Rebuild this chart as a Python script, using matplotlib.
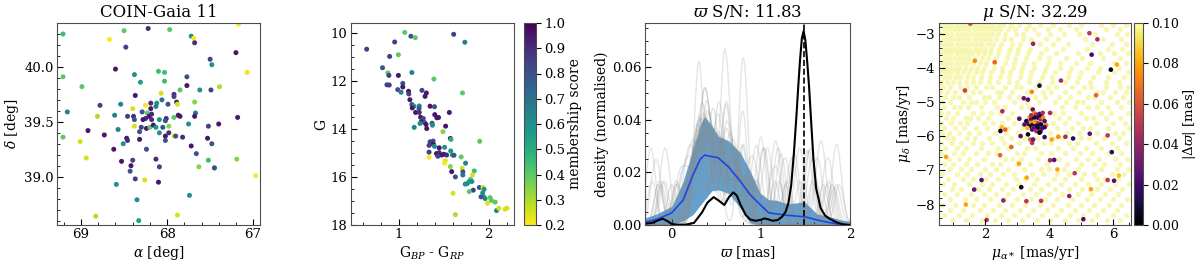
import numpy as np
import matplotlib
matplotlib.use('Agg')
import matplotlib.pyplot as plt
from matplotlib.ticker import AutoMinorLocator

plt.rcParams['font.family'] = ['DejaVu Serif']
plt.rcParams['mathtext.fontset'] = 'dejavuserif'
plt.rcParams['font.size'] = 10
plt.rcParams['xtick.labelsize'] = 9.5
plt.rcParams['ytick.labelsize'] = 9.5
plt.rcParams['xtick.major.pad'] = 2.5
plt.rcParams['ytick.major.pad'] = 2.5
plt.rcParams['axes.labelpad'] = 2.0

# ---- panel 1: sky positions of the candidate members
ra = [69.21, 68.50, 68.22, 67.97, 68.67, 68.48, 67.72, 67.69, 67.68, 67.17, 67.20, 67.50, 67.48,
      67.07, 68.60, 69.21, 68.38, 68.10, 68.03, 68.31, 68.03, 67.77, 68.99, 67.77, 67.85, 67.62,
      67.49, 67.39, 68.37, 68.07, 67.92, 67.92, 69.16, 68.78, 68.54, 68.06, 68.12, 67.99, 67.89,
      67.88, 67.68, 68.19, 68.13, 68.25, 68.40, 68.19, 68.29, 68.23, 68.18, 68.61, 68.81, 68.46,
      68.39, 68.38, 68.25, 68.21, 68.28, 68.18, 68.09, 68.01, 68.02, 67.92, 67.87, 67.85, 67.67,
      67.68, 67.75, 67.52, 67.40, 67.18, 68.92, 68.73, 68.57, 68.38, 68.32, 68.30, 68.24, 68.20,
      68.16, 68.13, 68.05, 68.09, 67.98, 67.98, 68.02, 68.02, 67.92, 67.90, 67.82, 69.21, 69.01,
      68.47, 68.46, 68.32, 68.51, 68.62, 68.24, 67.72, 67.53, 67.48, 67.66, 68.94, 68.53, 68.40,
      68.13, 68.42, 68.09, 67.63, 67.52, 67.45, 67.45, 67.19, 68.43, 68.37, 68.26, 68.10, 68.59,
      66.97, 67.74, 68.35, 68.83, 67.88, 68.33]
dec = [40.30, 40.33, 40.35, 40.34, 40.25, 40.18, 40.28, 40.26, 40.22, 40.39, 40.13, 40.07, 40.02,
       39.95, 39.98, 39.91, 39.93, 39.96, 39.95, 39.86, 39.87, 39.91, 39.82, 39.83, 39.79, 39.79,
       39.79, 39.82, 39.74, 39.76, 39.75, 39.73, 39.59, 39.65, 39.66, 39.70, 39.67, 39.66, 39.68,
       39.66, 39.68, 39.67, 39.64, 39.65, 39.62, 39.62, 39.59, 39.58, 39.57, 39.56, 39.55, 39.55,
       39.55, 39.52, 39.53, 39.55, 39.52, 39.52, 39.52, 39.53, 39.51, 39.54, 39.56, 39.55, 39.58,
       39.55, 39.48, 39.46, 39.48, 39.54, 39.42, 39.38, 39.43, 39.46, 39.41, 39.45, 39.44, 39.45,
       39.47, 39.45, 39.45, 39.40, 39.46, 39.40, 39.37, 39.33, 39.37, 39.37, 39.36, 39.36, 39.32,
       39.35, 39.33, 39.34, 39.30, 39.25, 39.25, 39.28, 39.35, 39.30, 39.21, 39.17, 39.14, 39.15,
       39.16, 39.10, 39.09, 39.09, 39.15, 39.08, 39.08, 39.16, 39.05, 38.98, 38.97, 38.95, 38.93,
       39.01, 38.83, 38.79, 38.64, 38.65, 38.60]
score = [0.45, 0.40, 0.90, 0.40, 0.20, 0.85, 0.60, 0.20, 0.90, 0.20, 0.95, 0.85, 0.60,
         0.22, 0.95, 0.40, 0.60, 0.45, 0.45, 0.55, 0.45, 0.80, 0.40, 0.95, 0.40, 0.60,
         0.85, 0.30, 0.95, 0.25, 0.90, 0.85, 0.65, 0.85, 0.65, 0.70, 0.60, 0.80, 0.90,
         0.25, 0.35, 0.90, 0.65, 0.20, 0.25, 0.95, 0.80, 0.40, 0.90, 0.65, 0.30, 0.85,
         0.90, 0.80, 0.90, 0.95, 0.95, 0.90, 0.60, 0.90, 0.80, 0.40, 0.95, 0.95, 0.70,
         0.95, 0.60, 0.85, 0.95, 0.95, 0.95, 0.95, 0.65, 0.25, 0.80, 0.85, 0.95, 0.40,
         0.95, 0.60, 0.80, 0.60, 0.35, 0.90, 0.95, 0.80, 0.25, 0.80, 0.90, 0.40, 0.25,
         0.95, 0.90, 0.95, 0.60, 0.95, 0.80, 0.95, 0.95, 0.80, 0.80, 0.25, 0.95, 0.85,
         0.90, 0.95, 0.85, 0.35, 0.45, 0.35, 0.80, 0.35, 0.80, 0.85, 0.25, 0.95, 0.60,
         0.20, 0.60, 0.60, 0.30, 0.25, 0.55]

# ---- panel 2: colour-magnitude diagram
bp_rp = [1.067, 1.135, 1.184, 1.610, 1.734, 0.955, 0.644, 0.899, 0.996, 0.820, 0.880, 0.891,
         0.996, 1.146, 1.390, 0.869, 0.895, 1.045, 1.045, 0.989, 1.026, 1.109, 1.112, 1.258,
         1.307, 1.292, 1.708, 1.124, 1.146, 1.169, 1.228, 1.225, 1.150, 1.187, 1.228, 1.348,
         1.397, 1.400, 1.442, 1.423, 1.562, 1.243, 1.273, 1.251, 1.236, 1.288, 1.303, 1.370,
         1.375, 1.172, 1.311, 1.521, 1.491, 1.899, 1.382, 1.356, 1.348, 1.386, 1.337, 1.397,
         1.449, 1.509, 1.573, 1.580, 1.337, 1.419, 1.449, 1.476, 1.502, 1.532, 1.434, 1.577,
         1.596, 1.614, 1.693, 1.337, 1.517, 1.509, 1.573, 1.742, 1.704, 1.588, 1.712, 1.712,
         1.839, 1.820, 1.629, 1.798, 1.783, 1.738, 1.760, 1.813, 1.828, 1.783, 1.895, 1.936,
         1.948, 1.932, 1.940, 1.914, 1.959, 2.015, 2.030, 1.985, 2.071, 2.086, 2.112, 2.180,
         2.202, 1.603, 1.629]
gmag = [9.99, 10.15, 10.21, 10.07, 10.40, 10.39, 10.69, 10.99, 10.92, 11.46, 11.68, 11.78,
        11.78, 11.66, 11.93, 12.17, 12.18, 12.11, 12.26, 12.37, 12.48, 12.44, 12.55, 12.40,
        12.51, 12.65, 12.51, 12.79, 12.99, 13.06, 13.05, 13.16, 13.13, 13.32, 13.32, 13.06,
        13.08, 13.41, 13.53, 13.54, 13.32, 13.52, 13.57, 13.71, 13.78, 13.74, 13.82, 13.77,
        13.85, 13.94, 13.99, 13.89, 14.12, 14.52, 14.51, 14.59, 14.54, 14.65, 14.69, 14.73,
        14.79, 14.77, 14.40, 14.44, 14.97, 15.03, 14.99, 15.09, 15.06, 15.09, 15.14, 14.92,
        15.09, 15.10, 15.17, 15.19, 15.34, 15.43, 15.57, 15.43, 15.64, 15.78, 15.79, 15.92,
        15.75, 15.92, 16.00, 16.10, 16.19, 16.30, 16.28, 16.19, 16.55, 16.61, 16.44, 16.44,
        16.52, 16.66, 16.81, 16.83, 16.90, 16.86, 16.98, 17.09, 17.05, 17.40, 17.30, 17.34,
        17.30, 16.68, 17.57]
score_cmd = [0.40, 0.80, 0.40, 0.85, 0.65, 0.85, 0.85, 0.85, 0.40, 0.80, 0.40, 0.85,
             0.95, 0.65, 0.40, 0.85, 0.85, 0.80, 0.95, 0.80, 0.65, 0.95, 0.85, 0.85,
             0.95, 0.95, 0.40, 0.95, 0.80, 0.60, 0.65, 0.80, 0.95, 0.95, 0.90, 0.95,
             0.80, 0.95, 0.95, 0.95, 0.95, 0.95, 0.80, 0.95, 0.60, 0.80, 0.95, 0.80,
             0.60, 0.65, 0.95, 0.95, 0.35, 0.40, 0.80, 0.95, 0.85, 0.95, 0.85, 0.60,
             0.95, 0.60, 0.95, 0.50, 0.85, 0.95, 0.90, 0.95, 0.95, 0.90, 0.85, 0.60,
             0.60, 0.80, 0.40, 0.20, 0.25, 0.20, 0.35, 0.65, 0.25, 0.95, 0.80, 0.70,
             0.45, 0.25, 0.80, 0.40, 0.55, 0.60, 0.60, 0.60, 0.85, 0.40, 0.80, 0.25,
             0.60, 0.60, 0.60, 0.80, 0.65, 0.40, 0.40, 0.25, 0.40, 0.65, 0.25, 0.25,
             0.25, 0.25, 0.30]

# ---- panel 3: parallax densities
plx_grid = [-0.30, -0.22, -0.15, -0.10, -0.05, 0.00, 0.06, 0.15, 0.25, 0.34, 0.40, 0.47, 0.53,
            0.59, 0.64, 0.69, 0.73, 0.77, 0.83, 0.88, 0.94, 1.00, 1.04, 1.09, 1.13, 1.19, 1.24,
            1.28, 1.31, 1.34, 1.37, 1.40, 1.42, 1.44, 1.46, 1.48, 1.50, 1.52, 1.54, 1.57, 1.59,
            1.62, 1.67, 1.72, 1.77, 1.85, 1.92, 2.00]
dens_members = [0.0005, 0.0008, 0.0018, 0.0024, 0.0015, 0.0004, 0.0001, 0.0001, 0.0008, 0.0048,
                0.0085, 0.0106, 0.0092, 0.0076, 0.0105, 0.0124, 0.0112, 0.0078, 0.0038, 0.0021,
                0.0016, 0.0020, 0.0025, 0.0021, 0.0016, 0.0019, 0.0032, 0.0052, 0.0085, 0.0150,
                0.0270, 0.0420, 0.0530, 0.0630, 0.0710, 0.0738, 0.0700, 0.0620, 0.0530, 0.0360,
                0.0250, 0.0140, 0.0065, 0.0036, 0.0024, 0.0010, 0.0003, 0.0000]

field_x = [-0.30, -0.17, 0.00, 0.13, 0.24, 0.32, 0.37, 0.45, 0.52, 0.64, 0.77, 0.88, 0.99, 1.09,
           1.18, 1.29, 1.40, 1.49, 1.52, 1.63, 1.74, 1.89, 2.00]
field_median = [0.0011, 0.0021, 0.0046, 0.0096, 0.0192, 0.0250, 0.0266, 0.0260, 0.0256, 0.0220,
                0.0166, 0.0115, 0.0078, 0.0046, 0.0042, 0.0037, 0.0034, 0.0031, 0.0029, 0.0019,
                0.0011, 0.0002, 0.0000]
field_hi = [0.0027, 0.0042, 0.0071, 0.0166, 0.0290, 0.0380, 0.0413, 0.0378, 0.0338, 0.0320,
            0.0274, 0.0205, 0.0122, 0.0096, 0.0094, 0.0081, 0.0084, 0.0089, 0.0078, 0.0042,
            0.0035, 0.0020, 0.0014]
field_lo = [0.0003, 0.0001, 0.0000, 0.0017, 0.0040, 0.0075, 0.0096, 0.0130, 0.0134, 0.0120,
            0.0065, 0.0008, 0.0000, 0.0000, 0.0000, 0.0000, 0.0000, 0.0000, 0.0000, 0.0000,
            0.0000, 0.0000, 0.0000]
cluster_plx = 1.48

# random field draws (parallaxes) behind the grey curves
field_draws = [
    [-0.12, 0.18, 0.30, 0.33, 0.38, 0.45, 0.52, 0.60, 0.71, 0.85, 1.20, 1.25, 1.70],
    [0.05, 0.22, 0.28, 0.35, 0.36, 0.42, 0.55, 0.58, 0.66, 0.80, 0.81, 1.35, 1.40],
    [-0.20, -0.15, 0.26, 0.31, 0.40, 0.41, 0.47, 0.63, 0.70, 0.74, 0.95, 1.55, 1.60, 1.82],
    [0.25, 0.33, 0.34, 0.39, 0.50, 0.51, 0.57, 0.68, 0.90, 1.05, 1.10, 1.44],
    [0.20, 0.29, 0.37, 0.44, 0.48, 0.49, 0.61, 0.78, 0.79, 0.82, 1.60, 1.66, 1.88],
    [0.08, 0.17, 0.27, 0.32, 0.36, 0.43, 0.59, 0.60, 0.64, 0.72, 1.00, 1.05],
    [-0.25, -0.22, 0.24, 0.30, 0.31, 0.46, 0.53, 0.55, 0.69, 0.87, 1.28, 1.52, 1.56],
    [0.21, 0.34, 0.35, 0.40, 0.45, 0.56, 0.62, 0.63, 0.76, 0.92, 0.98],
    [-0.15, 0.28, 0.38, 0.39, 0.41, 0.50, 0.66, 0.73, 0.84, 1.12, 1.20, 1.72, 1.78],
    [0.10, 0.19, 0.23, 0.33, 0.47, 0.52, 0.54, 0.58, 0.70, 0.81, 1.32, 1.38, 1.85],
    [-0.08, 0.16, 0.26, 0.29, 0.37, 0.43, 0.44, 0.57, 0.65, 0.77, 0.88, 1.16],
    [0.00, 0.24, 0.31, 0.36, 0.42, 0.49, 0.60, 0.61, 0.67, 0.75, 1.50, 1.54, 1.80],
    [0.27, 0.35, 0.38, 0.46, 0.51, 0.64, 0.72, 0.86, 0.94, 1.14, 1.19],
    [0.06, 0.20, 0.30, 0.32, 0.41, 0.48, 0.55, 0.68, 0.69, 0.79, 1.24, 1.30, 1.74],
    [-0.10, -0.05, 0.25, 0.34, 0.40, 0.44, 0.53, 0.59, 0.71, 0.83, 0.96, 1.62],
    [0.18, 0.29, 0.30, 0.37, 0.50, 0.57, 0.62, 0.74, 0.80, 1.01, 1.06, 1.76],
    [-0.22, 0.15, 0.22, 0.33, 0.39, 0.42, 0.54, 0.65, 0.66, 0.78, 1.41, 1.46],
    [0.23, 0.28, 0.36, 0.43, 0.47, 0.56, 0.63, 0.70, 0.88, 1.29, 1.83, 1.87],
    [0.19, 0.32, 0.37, 0.38, 0.45, 0.52, 0.58, 0.76, 0.82, 0.98, 1.02],
    [0.12, 0.21, 0.26, 0.34, 0.41, 0.49, 0.51, 0.67, 0.73, 0.85, 1.53, 1.58],
    [-0.14, 0.16, 0.27, 0.31, 0.35, 0.44, 0.59, 0.61, 0.69, 0.77, 1.17, 1.22],
    [0.22, 0.30, 0.39, 0.40, 0.48, 0.55, 0.64, 0.75, 0.89, 1.65, 1.70],
    [-0.10, 0.28, 0.30, 0.31, 0.33, 0.50, 0.52, 0.78, 0.80, 0.81, 0.82, 1.20],
    [0.05, 0.20, 0.35, 0.40, 0.45, 0.58, 0.59, 0.60, 0.61, 0.70, 0.95, 1.58],
]

# ---- panel 4: proper motions
# field stars, one list of pmra per pmdec row
bg_pmdec = [-2.72, -2.86, -3.00, -3.14, -3.28, -3.42, -3.56, -3.70, -3.84, -3.98, -4.12, -4.26,
            -4.40, -4.55, -4.70, -4.85, -5.00, -5.15, -5.30, -5.45, -5.60, -5.75, -5.90, -6.05,
            -6.20, -6.35, -6.50, -6.65, -6.80, -6.95, -7.10, -7.25, -7.40, -7.55, -7.70, -7.85,
            -8.00, -8.15, -8.30, -8.45]
bg_pmra = [
    [0.62, 0.78, 0.94, 1.10, 1.26, 1.42, 1.58, 1.74, 1.90, 2.06, 2.22, 2.38, 2.55, 2.80, 3.05, 3.35, 3.7, 4.1, 4.6, 5.0, 5.6, 6.0, 6.4],
    [0.70, 0.86, 1.02, 1.18, 1.34, 1.50, 1.66, 1.82, 1.98, 2.14, 2.30, 2.46, 2.70, 2.92, 3.28, 3.52, 3.95, 4.33, 4.82, 5.78, 6.22],
    [0.62, 0.78, 0.94, 1.10, 1.26, 1.42, 1.58, 1.74, 1.90, 2.06, 2.22, 2.40, 2.62, 2.96, 3.18, 3.64, 4.02, 4.47, 4.93, 5.41, 6.12, 6.44],
    [0.70, 0.86, 1.02, 1.18, 1.34, 1.50, 1.66, 1.82, 1.98, 2.14, 2.32, 2.57, 2.81, 3.17, 3.43, 3.88, 4.27, 5.12, 5.66, 6.23],
    [0.62, 0.78, 0.94, 1.10, 1.26, 1.42, 1.58, 1.74, 1.90, 2.08, 2.25, 2.48, 2.83, 3.08, 3.72, 4.12, 4.58, 5.33, 5.97, 6.38],
    [0.70, 0.86, 1.02, 1.18, 1.34, 1.50, 1.66, 1.82, 2.00, 2.18, 2.43, 2.77, 3.02, 3.38, 3.88, 4.42, 5.18, 5.83, 6.27],
    [0.62, 0.78, 0.94, 1.10, 1.26, 1.42, 1.58, 1.76, 1.95, 2.15, 2.38, 2.72, 2.98, 3.33, 3.73, 4.22, 4.88, 5.57, 6.03, 6.47],
    [0.70, 0.86, 1.02, 1.18, 1.34, 1.50, 1.68, 1.88, 2.08, 2.33, 2.67, 2.93, 3.28, 3.67, 3.98, 4.52, 5.02, 5.68, 6.22],
    [0.62, 0.78, 0.94, 1.10, 1.26, 1.44, 1.62, 1.82, 2.02, 2.28, 2.62, 2.88, 3.22, 3.53, 3.97, 4.33, 4.82, 5.28, 6.02, 6.38],
    [0.70, 0.86, 1.02, 1.18, 1.36, 1.55, 1.75, 1.95, 2.27, 2.53, 2.87, 3.13, 3.52, 3.88, 4.32, 4.68, 5.17, 5.58, 6.17],
    [0.62, 0.78, 0.94, 1.12, 1.30, 1.50, 1.70, 1.90, 2.18, 2.52, 2.78, 3.12, 3.43, 3.82, 4.18, 4.62, 4.98, 5.52, 6.03, 6.47],
    [0.70, 0.86, 1.04, 1.22, 1.42, 1.62, 1.85, 2.13, 2.47, 2.73, 3.07, 3.38, 3.77, 4.08, 4.57, 4.93, 5.37, 5.83, 6.32],
    [0.62, 0.80, 0.98, 1.18, 1.38, 1.60, 1.82, 2.12, 2.38, 2.74, 2.98, 3.37, 3.68, 4.07, 4.48, 4.87, 5.28, 5.77, 6.18],
    [0.66, 0.90, 1.22, 1.41, 1.70, 2.02, 2.20, 2.61, 2.95, 3.12, 3.58, 3.97, 4.22, 4.70, 5.08, 5.31, 5.77, 6.20, 6.46],
    [0.58, 0.81, 1.05, 1.35, 1.60, 1.83, 2.35, 2.50, 2.83, 3.31, 3.79, 4.05, 4.48, 4.93, 5.50, 5.66, 6.05, 6.38],
    [0.75, 0.98, 1.16, 1.50, 1.95, 2.12, 2.44, 2.75, 3.05, 3.55, 3.86, 4.30, 4.65, 5.20, 5.38, 5.90, 6.30],
    [0.60, 0.88, 1.30, 1.55, 1.72, 2.00, 2.28, 2.90, 3.30, 3.68, 4.18, 4.52, 4.85, 5.05, 5.60, 6.12, 6.50],
    [0.70, 1.02, 1.20, 1.45, 1.85, 2.36, 2.60, 3.10, 3.35, 4.38, 4.80, 5.22, 5.48, 5.84, 6.25],
    [0.62, 0.83, 1.10, 1.62, 1.90, 2.18, 2.45, 2.83, 4.15, 4.42, 4.98, 5.60, 5.92, 6.45],
    [0.78, 1.00, 1.38, 1.52, 1.78, 2.08, 2.70, 3.00, 4.30, 4.62, 5.15, 5.35, 5.76, 6.20],
    [0.60, 0.92, 1.20, 1.44, 1.95, 2.25, 2.52, 2.90, 4.10, 4.50, 4.88, 5.45, 5.98, 6.35],
    [0.72, 1.05, 1.33, 1.70, 2.05, 2.72, 3.15, 4.25, 4.70, 5.05, 5.28, 5.82, 6.48],
    [0.64, 0.86, 1.18, 1.50, 1.80, 2.30, 2.65, 3.02, 4.02, 4.55, 4.92, 5.50, 6.05, 6.30],
    [0.80, 1.00, 1.42, 1.66, 2.12, 2.50, 2.80, 3.20, 3.62, 4.15, 4.40, 5.00, 5.25, 5.70, 6.18],
    [0.60, 0.95, 1.25, 1.60, 1.90, 2.22, 2.58, 3.05, 3.82, 4.05, 4.60, 4.85, 5.45, 5.95, 6.40],
    [0.75, 1.12, 1.38, 1.85, 2.40, 2.70, 3.30, 3.55, 4.28, 4.75, 5.15, 5.60, 6.10],
    [0.62, 1.02, 1.30, 1.72, 2.08, 2.32, 2.98, 3.20, 3.75, 4.05, 4.50, 4.95, 5.32, 5.85, 6.25],
    [0.85, 1.18, 1.50, 1.95, 2.60, 2.82, 3.12, 3.65, 4.30, 4.82, 5.20, 5.55, 6.05, 6.42],
    [0.70, 0.98, 1.40, 1.75, 2.20, 2.45, 3.00, 3.40, 3.92, 4.55, 5.00, 5.40, 5.72, 6.20],
    [0.90, 1.25, 1.55, 2.00, 2.32, 2.70, 3.20, 3.75, 4.00, 4.45, 4.90, 5.60, 6.10, 6.45],
    [0.65, 1.10, 1.42, 1.82, 2.15, 2.55, 2.88, 3.45, 3.80, 4.25, 4.62, 5.08, 5.40, 5.95, 6.32],
    [0.82, 1.30, 1.60, 2.02, 2.40, 2.95, 3.25, 3.62, 4.15, 4.50, 5.00, 5.50, 5.75, 6.15],
    [0.68, 1.02, 1.50, 1.88, 2.22, 2.65, 3.05, 3.52, 3.95, 4.35, 4.80, 5.20, 5.62, 6.05, 6.48],
    [0.95, 1.25, 1.78, 2.10, 2.52, 2.85, 3.38, 3.75, 4.18, 4.62, 5.02, 5.48, 5.90, 6.28],
    [0.72, 1.12, 1.55, 1.95, 2.32, 2.72, 3.18, 3.58, 4.00, 4.40, 4.90, 5.30, 5.75, 6.15],
    [0.90, 1.35, 1.70, 2.15, 2.58, 3.00, 3.42, 3.85, 4.25, 4.72, 5.18, 5.58, 6.00, 6.42],
    [0.65, 1.05, 1.60, 1.95, 2.42, 2.82, 3.25, 3.70, 4.10, 4.58, 4.98, 5.40, 5.85, 6.25],
    [0.88, 1.30, 1.82, 2.25, 2.60, 3.08, 3.50, 3.92, 4.35, 4.80, 5.25, 5.68, 6.10],
    [0.70, 1.18, 1.58, 2.05, 2.50, 2.90, 3.32, 3.78, 4.20, 4.65, 5.05, 5.50, 5.98, 6.40],
    [0.95, 1.40, 1.88, 2.30, 2.72, 3.15, 3.60, 4.02, 4.48, 4.90, 5.32, 5.80, 6.20],
]

# candidates coloured by |delta parallax|
pmra = [1.53, 5.25, 5.50, 3.49, 5.32, 1.67, 2.29, 6.11, 5.92, 4.36, 3.69, 1.36, 3.45, 5.46,
        3.20, 3.33, 2.53, 4.02, 3.06, 2.51, 2.47, 2.62, 3.10, 3.33, 3.40, 3.46, 3.49, 3.85,
        4.07, 4.28, 4.50, 4.74, 5.26, 5.82, 5.95, 2.81, 2.46, 0.77, 4.02, 4.15, 3.05, 4.25,
        4.79, 6.17, 5.30, 5.82, 6.02, 3.29, 1.88, 3.12, 1.65, 2.56, 3.28, 3.74, 4.62, 1.39,
        2.04, 5.06,
        3.48, 3.53, 3.59, 3.69, 3.74, 3.38, 3.43, 3.53, 3.64, 3.72, 3.80, 3.85, 3.28, 3.33,
        3.43, 3.49, 3.59, 3.66, 3.74, 3.90, 3.22, 3.38, 3.53, 3.64, 3.76, 3.46, 3.59, 3.72,
        3.43, 3.79, 3.31, 3.69, 3.85, 3.53, 3.62]
pmdec = [-2.69, -2.97, -3.15, -3.28, -3.60, -3.78, -3.82, -3.89, -4.04, -4.36, -4.51, -4.65,
         -4.69, -4.79, -4.88, -4.92, -5.26, -5.31, -5.48, -5.73, -5.84, -5.80, -5.99, -5.94,
         -6.09, -6.19, -6.09, -6.02, -6.09, -6.01, -6.01, -6.06, -5.92, -5.97, -6.46, -6.31,
         -6.55, -6.60, -6.70, -6.69, -6.80, -6.97, -7.08, -7.15, -7.55, -7.28, -7.30, -7.21,
         -7.28, -7.49, -7.56, -7.88, -7.90, -7.89, -7.75, -8.00, -8.45, -8.43,
         -5.21, -5.31, -5.36, -5.34, -5.40, -5.45, -5.50, -5.45, -5.45, -5.50, -5.45, -5.55,
         -5.55, -5.63, -5.60, -5.65, -5.60, -5.63, -5.65, -5.67, -5.65, -5.70, -5.73, -5.75,
         -5.77, -5.80, -5.84, -5.86, -5.38, -5.31, -5.75, -5.89, -5.73, -5.57, -5.69]
dplx = [0.060, 0.050, 0.045, 0.040, 0.020, 0.075, 0.065, 0.080, 0.003, 0.045, 0.010, 0.055,
        0.075, 0.065, 0.030, 0.025, 0.045, 0.045, 0.025, 0.085, 0.005, 0.065, 0.025, 0.005,
        0.065, 0.050, 0.030, 0.020, 0.080, 0.075, 0.045, 0.015, 0.025, 0.050, 0.015, 0.065,
        0.065, 0.080, 0.045, 0.025, 0.080, 0.080, 0.050, 0.085, 0.080, 0.050, 0.025, 0.080,
        0.025, 0.005, 0.030, 0.040, 0.050, 0.050, 0.040, 0.080, 0.050, 0.025,
        0.025, 0.075, 0.045, 0.025, 0.008, 0.075, 0.025, 0.008, 0.015, 0.045, 0.075, 0.025,
        0.008, 0.025, 0.075, 0.008, 0.025, 0.045, 0.008, 0.075, 0.025, 0.008, 0.025, 0.008,
        0.025, 0.025, 0.045, 0.025, 0.045, 0.045, 0.085, 0.003, 0.015, 0.080, 0.008]


def style_axes(ax):
    ax.tick_params(which='both', direction='in', top=False, right=False)
    ax.tick_params(which='major', length=4)
    ax.tick_params(which='minor', length=2)
    ax.xaxis.set_minor_locator(AutoMinorLocator())
    ax.yaxis.set_minor_locator(AutoMinorLocator())
    for sp in ax.spines.values():
        sp.set_color('0.3')


fig = plt.figure(figsize=(12, 2.62), dpi=100)
W, H = 1200, 262


def box(x0, x1, y0, y1):
    return [x0 / W, (H - y1) / H, (x1 - x0) / W, (y1 - y0) / H]


ax1 = fig.add_axes(box(57, 260, 23, 225))
ax2 = fig.add_axes(box(351, 514, 23, 225))
cax2 = fig.add_axes(box(524, 536, 23, 225))
ax3 = fig.add_axes(box(645, 850, 23, 225))
ax4 = fig.add_axes(box(939, 1131, 23, 225))
cax4 = fig.add_axes(box(1134, 1143, 23, 225))

# panel 1
ax1.scatter(ra, dec, c=score, cmap='viridis_r', vmin=0.2, vmax=1.0, s=13, linewidths=0)
ax1.set_xlim(69.28, 66.92)
ax1.set_ylim(38.56, 40.40)
ax1.set_xticks([69, 68, 67])
ax1.set_yticks([39.0, 39.5, 40.0])
ax1.set_xlabel(r'$\alpha$ [deg]')
ax1.set_ylabel(r'$\delta$ [deg]')
ax1.set_title('COIN-Gaia 11', fontsize=12, pad=4)
style_axes(ax1)

# panel 2
sc2 = ax2.scatter(bp_rp, gmag, c=score_cmd, cmap='viridis_r', vmin=0.2, vmax=1.0, s=13, linewidths=0)
ax2.set_xlim(0.47, 2.28)
ax2.set_ylim(18, 9.6)
ax2.set_xticks([1, 2])
ax2.set_yticks([10, 12, 14, 16, 18])
ax2.set_xlabel(r'G$_{BP}$ - G$_{RP}$')
ax2.set_ylabel('G')
style_axes(ax2)
cb2 = fig.colorbar(sc2, cax=cax2, ticks=[0.2, 0.3, 0.4, 0.5, 0.6, 0.7, 0.8, 0.9, 1.0])
cb2.set_label('membership score', labelpad=2)
cb2.outline.set_edgecolor('0.3')

# panel 3: grey = single field draws (kde), blue = field median and spread, black = members
grid = np.linspace(-0.3, 2.0, 231)
bw = 0.05
for draw in field_draws:
    d = np.asarray(draw)
    k = np.exp(-0.5 * ((grid[:, None] - d[None, :]) / bw) ** 2).sum(axis=1)
    k = k / (len(d) * bw * np.sqrt(2 * np.pi)) * 0.025
    ax3.plot(grid, k, color='0.55', alpha=0.22, lw=1)
ax3.fill_between(field_x, field_lo, field_hi, color='#4a8fc4', alpha=0.85, lw=0)
ax3.plot(field_x, field_median, color='#1f45e0', lw=1.2)
ax3.plot(plx_grid, dens_members, color='black', lw=1.5)
ax3.axvline(cluster_plx, color='black', ls='--', lw=1.2)
ax3.set_xlim(-0.3, 2.0)
ax3.set_ylim(0, 0.0768)
ax3.set_xticks([0, 1, 2])
ax3.set_yticks([0.0, 0.02, 0.04, 0.06])
ax3.set_yticklabels(['0.00', '0.02', '0.04', '0.06'])
ax3.set_xlabel(r'$\varpi$ [mas]')
ax3.set_ylabel('density (normalised)')
ax3.set_title(r'$\varpi$ S/N: 11.83', fontsize=12, pad=4)
style_axes(ax3)

# panel 4
cmap4 = plt.get_cmap('inferno')
for y, xs in zip(bg_pmdec, bg_pmra):
    ax4.scatter(xs, [y] * len(xs), color=cmap4(0.96), alpha=0.6, s=15, linewidths=0)
sc4 = ax4.scatter(pmra, pmdec, c=dplx, cmap='inferno', vmin=0.0, vmax=0.1, s=11, linewidths=0)
ax4.set_xlim(0.55, 6.55)
ax4.set_ylim(-8.6, -2.67)
ax4.set_xticks([2, 4, 6])
ax4.set_yticks([-8, -7, -6, -5, -4, -3])
ax4.set_xlabel(r'$\mu_{\alpha*}$ [mas/yr]')
ax4.set_ylabel(r'$\mu_\delta$ [mas/yr]')
ax4.set_title(r'$\mu$ S/N: 32.29', fontsize=12, pad=4)
style_axes(ax4)
cb4 = fig.colorbar(sc4, cax=cax4, ticks=[0.0, 0.02, 0.04, 0.06, 0.08, 0.10])
cb4.ax.set_yticklabels(['0.00', '0.02', '0.04', '0.06', '0.08', '0.10'])
cb4.ax.tick_params(pad=2, labelsize=9)
cb4.set_label(r'$|\Delta\varpi|$ [mas]', labelpad=2, fontsize=9.5)
cb4.outline.set_edgecolor('0.3')

fig.savefig('out.png', dpi=100)
